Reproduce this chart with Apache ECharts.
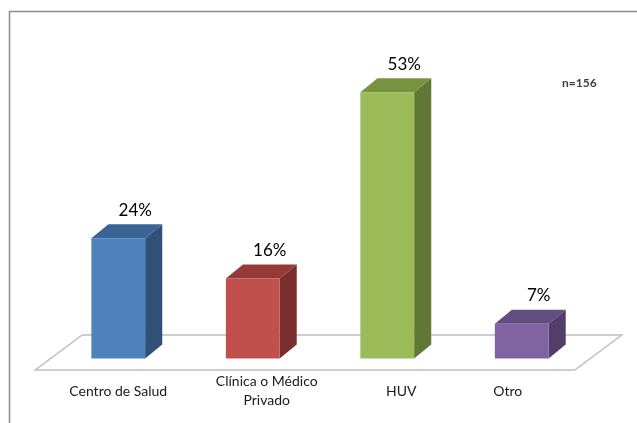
<!DOCTYPE html>
<html>
<head>
<meta charset="utf-8">
<script src="https://cdn.jsdelivr.net/npm/echarts@6/dist/echarts.min.js"></script>
<style>html,body{margin:0;padding:0;background:#fff}#c{width:637px;height:423px}</style>
</head>
<body>
<div id="c"></div>
<script>
const categories = ['Centro de Salud', 'Clínica o Médico\nPrivado', 'HUV', 'Otro'];
const values = [24, 16, 53, 7];
const valueLabels = ['24%', '16%', '53%', '7%'];
const sampleNote = 'n=156';
const frontColors = ['#4F81BD', '#C0504D', '#9BBB59', '#8064A2'];
const topColors = ['#3B6496', '#953A37', '#77933F', '#634C80'];
const sideColors = ['#2F5077', '#7A2F2D', '#617735', '#523F69'];

const FONT = 'Lato, "Open Sans", sans-serif';
const labelShift = [0, 14, 3, -14];

const chart = echarts.init(document.getElementById('c'), null, {renderer: 'canvas'});

function renderFloor(params, api) {
  const base = api.coord([0, 0]);
  const last = api.coord([categories.length - 1, 0]);
  const band = api.size([1, 0])[0];
  const fl = base[0] - band * 0.617;
  const fr = last[0] + band * 0.394;
  const fy = base[1] + 11;
  const by = base[1] - 24;
  const dx = 47;
  return {
    type: 'polygon',
    shape: {points: [[fl, fy], [fr, fy], [fr + dx, by], [fl + dx, by]]},
    style: {fill: '#fff', stroke: '#BFBFBF', lineWidth: 1.5}
  };
}

function renderBar(params, api) {
  const idx = api.value(0);
  const top = api.coord([idx, api.value(1)]);
  const bot = api.coord([idx, 0]);
  const band = api.size([1, 0])[0];
  const w = band * 0.4;
  const dx = band * 0.127, dy = 14;
  const x0 = top[0] - w / 2, x1 = top[0] + w / 2;
  const yt = top[1], yb = bot[1] - 0.5;
  return {
    type: 'group',
    children: [
      {type: 'polygon', shape: {points: [[x1, yt], [x1 + dx, yt - dy], [x1 + dx, yb - dy], [x1, yb]]},
       style: {fill: sideColors[idx]}},
      {type: 'polygon', shape: {points: [[x0, yt], [x0 + dx, yt - dy], [x1 + dx, yt - dy], [x1, yt]]},
       style: {fill: topColors[idx]}},
      {type: 'rect', shape: {x: x0, y: yt, width: w, height: yb - yt},
       style: {fill: frontColors[idx]}},
      {type: 'text', x: top[0] + 17, y: yt - 28,
       style: {text: valueLabels[idx], fill: '#000', font: '17px ' + FONT, align: 'center', verticalAlign: 'middle'}}
    ]
  };
}

chart.setOption({
  animation: false,
  backgroundColor: '#fff',
  grid: {left: 51, right: 48, top: 57, bottom: 64},
  xAxis: {
    type: 'category',
    data: categories,
    axisLine: {show: false},
    axisTick: {show: false},
    axisLabel: {
      interval: 0,
      margin: 32,
      verticalAlign: 'middle',
      lineHeight: 19,
      color: '#1a1a1a',
      fontSize: 14,
      fontFamily: FONT,
      formatter: function (v, i) {
        const s = labelShift[i];
        const name = s > 0 ? 'r' : (s < 0 ? 'l' : 'n');
        return v.split('\n').map(function (line) { return '{' + name + '|' + line + '}'; }).join('\n');
      },
      rich: {
        n: {fontSize: 14, fontFamily: FONT, color: '#1a1a1a', lineHeight: 19},
        r: {fontSize: 14, fontFamily: FONT, color: '#1a1a1a', lineHeight: 19, padding: [0, 0, 0, 28]},
        l: {fontSize: 14, fontFamily: FONT, color: '#1a1a1a', lineHeight: 19, padding: [0, 28, 0, 0]}
      }
    }
  },
  yAxis: {type: 'value', min: 0, max: 60, show: false, splitLine: {show: false}},
  graphic: [
    {type: 'polyline', shape: {points: [[9.5, 423], [9.5, 11.5], [637, 11.5]]},
     style: {stroke: '#8C8C8C', lineWidth: 1.5, fill: null}, z: 10},
    {type: 'text', left: 562, top: 77,
     style: {text: sampleNote, fill: '#404040', font: 'bold 12px ' + FONT}, z: 10}
  ],
  series: [
    {type: 'custom', renderItem: renderFloor, data: [[0, 0]], z: 1, silent: true},
    {type: 'custom', renderItem: renderBar, z: 2, silent: true,
     encode: {x: 0, y: 1},
     data: values.map(function (v, i) { return [i, v]; })}
  ]
});
</script>
</body>
</html>
